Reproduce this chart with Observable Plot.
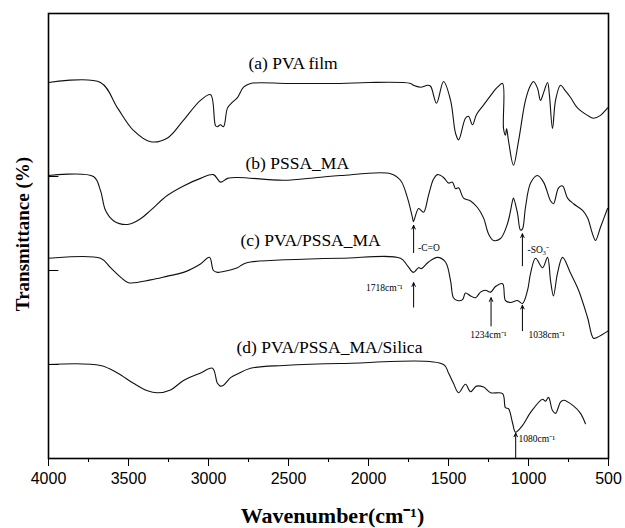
<!DOCTYPE html>
<html>
<head>
<meta charset="utf-8">
<script src="https://cdn.jsdelivr.net/npm/d3@7"></script>
<script src="https://cdn.jsdelivr.net/npm/@observablehq/plot@0.6"></script>
<style>
  html, body { margin: 0; padding: 0; background: #fff; }
  #chart { width: 625px; height: 528px; }
  svg { display: block; }
</style>
</head>
<body>
<div id="chart"></div>
<script>
// ---- Data: wavenumber (cm-1) and stacked transmittance (arbitrary units) ----
const wnA = [4000,3675,3569,3469,3362,3256,3156,3050,2987,2956,2944,2925,2906,2881,2850,2819,2781,2737,2500,2175,2000,1737,1719,1675,1631,1612,1575,1531,1487,1456,1437,1394,1375,1350,1325,1281,1237,1194,1162,1156,1144,1137,1125,1094,1062,1019,987,969,944,925,906,881,869,850,831,800,769,737,694,631,594,550,506];
const tA  = [4.00,4.00,3.73,3.49,3.37,3.41,3.60,3.81,3.87,3.54,3.53,3.55,3.53,3.73,3.79,3.84,3.95,3.99,3.99,3.99,4.00,3.99,3.97,3.95,3.97,3.96,3.78,4.01,3.81,3.46,3.39,3.62,3.64,3.55,3.66,3.76,3.86,3.95,3.99,3.51,3.44,3.51,3.38,3.12,3.38,3.81,3.97,4.01,3.94,3.81,3.89,4.00,3.86,3.51,3.81,3.97,3.91,3.84,3.73,3.65,3.62,3.65,3.73];

const wnB = [4000,3719,3675,3644,3594,3506,3425,3362,3256,3156,3050,2969,2925,2881,2819,2531,2319,2175,1862,1800,1756,1725,1719,1687,1656,1625,1594,1569,1531,1500,1475,1456,1437,1406,1362,1319,1281,1250,1219,1175,1131,1100,1094,1069,1050,1038,1019,987,944,906,862,844,812,787,756,719,662,631,600,581,550,506];
const tB  = [3.01,3.00,2.85,2.64,2.53,2.49,2.55,2.64,2.80,2.90,2.98,3.02,2.94,2.98,2.99,2.96,2.99,3.01,3.03,2.96,2.77,2.56,2.52,2.66,2.62,2.80,2.97,3.02,2.99,2.93,2.94,2.87,2.88,2.77,2.74,2.67,2.56,2.39,2.32,2.34,2.50,2.74,2.77,2.61,2.43,2.44,2.67,2.93,3.01,2.94,2.74,2.71,2.88,2.90,2.77,2.71,2.64,2.56,2.39,2.32,2.46,2.66];

const wnC = [4000,3675,3612,3550,3500,3362,3256,3156,3050,2994,2969,2944,2906,2819,2781,2737,2175,1800,1756,1719,1687,1669,1625,1569,1519,1487,1469,1444,1412,1394,1362,1331,1300,1269,1237,1206,1162,1144,1112,1069,1038,1006,987,956,912,881,862,844,819,787,737,687,631,594,569,500];
const tC  = [2.13,2.13,2.03,1.93,1.87,1.90,1.94,1.98,2.07,2.14,2.00,1.98,1.99,2.03,2.07,2.09,2.13,2.13,2.05,1.98,2.03,2.02,2.09,2.14,2.09,1.89,1.71,1.68,1.69,1.76,1.73,1.71,1.77,1.79,1.77,1.83,1.86,1.68,1.66,1.68,1.65,1.79,1.97,2.13,2.03,2.14,1.89,1.73,1.97,2.14,1.97,1.79,1.50,1.28,1.29,1.36];

const wnD = [4000,3675,3569,3469,3381,3319,3237,3156,3050,2975,2944,2925,2906,2862,2819,2737,2531,2175,1531,1500,1469,1437,1394,1362,1325,1281,1237,1162,1144,1125,1100,1081,1038,987,912,894,875,850,831,800,781,719,675,644];
const tD  = [1.00,0.99,0.91,0.80,0.72,0.70,0.73,0.83,0.91,0.96,0.80,0.77,0.78,0.86,0.90,0.96,0.99,1.01,1.00,0.91,0.80,0.70,0.79,0.71,0.77,0.76,0.70,0.69,0.54,0.53,0.38,0.28,0.35,0.49,0.63,0.61,0.65,0.51,0.48,0.60,0.62,0.56,0.48,0.37];

// Series labels
const seriesNames = ["(a) PVA film", "(b) PSSA_MA", "(c) PVA/PSSA_MA", "(d) PVA/PSSA_MA/Silica"];
const labelWn = [2750, 2769, 2800, 2825];
const labelT  = [4.20, 3.14, 2.32, 1.18];

// Peak annotations (arrows pointing up to bands)
const arrowWn  = [1718, 1038, 1718, 1234, 1038, 1080];
const arrowLo  = [2.19, 2.05, 1.61, 1.41, 1.36, 0.00];
const arrowHi  = [2.48, 2.39, 1.87, 1.71, 1.63, 0.27];

const noteText = ["-C=O", "-SO\u2083\u207B", "1718cm\u207B\u00B9", "1234cm\u207B\u00B9", "1038cm\u207B\u00B9", "1080cm\u207B\u00B9"];
const noteWn   = [1690, 1006, 1787, 1250, 1000, 1062];
const noteT    = [2.24, 2.22, 1.81, 1.31, 1.31, 0.21];
const noteAnchor = ["start", "start", "end", "middle", "start", "start"];

// Axis ticks
const majorTicks = [4000, 3500, 3000, 2500, 2000, 1500, 1000, 500];
const minorTicks = [3750, 3250, 2750, 2250, 1750, 1250, 750];
const yTicks = [1, 2, 3];

// ---- Build rows ----
const rows = [];
[[wnA, tA, "a"], [wnB, tB, "b"], [wnC, tC, "c"], [wnD, tD, "d"]].forEach(([w, t, s]) => {
  w.forEach((v, i) => rows.push({wn: v, T: t[i], s}));
});
const labels = seriesNames.map((n, i) => ({n, wn: labelWn[i], T: labelT[i]}));
const arrows = arrowWn.map((w, i) => ({wn: w, lo: arrowLo[i], hi: arrowHi[i]}));
const notes = noteText.map((t, i) => ({t, wn: noteWn[i], T: noteT[i], a: noteAnchor[i]}));

const serif = "'Liberation Serif', 'Times New Roman', serif";
const sans = "'Liberation Sans', Arial, sans-serif";

const noteMark = (anchor) => Plot.text(notes.filter(d => d.a === anchor), {
  x: "wn", y: "T", text: "t", textAnchor: anchor, fontSize: 9.5, fontFamily: serif, fill: "#000"
});

const chart = Plot.plot({
  width: 625,
  height: 528,
  marginLeft: 48,
  marginRight: 17,
  marginTop: 13,
  marginBottom: 70,
  style: {background: "#fff", color: "#000", fontFamily: sans},
  x: {domain: [4000, 500]},
  y: {domain: [0, 4.734]},
  marks: [
    Plot.line(rows, {x: "wn", y: "T", z: "s", stroke: "#111", strokeWidth: 1.1, curve: "catmull-rom"}),
    Plot.frame({stroke: "#000", strokeWidth: 1.6}),
    Plot.axisX({ticks: majorTicks, tickSize: 8, tickPadding: 6, tickFormat: d => String(d), fontSize: 16, fontFamily: sans, label: null, tickStrokeWidth: 1.5}),
    Plot.axisX({ticks: minorTicks, tickSize: 4, tickFormat: () => "", label: null}),
    Plot.axisY({ticks: [], label: null, tickSize: 0}),
    Plot.ruleY(yTicks, {x1: 4000, x2: 3935, stroke: "#000", strokeWidth: 1}),
    Plot.arrow(arrows, {x1: "wn", x2: "wn", y1: "lo", y2: "hi", stroke: "#000", strokeWidth: 1, headLength: 6, headAngle: 50}),
    Plot.text(labels, {x: "wn", y: "T", text: "n", textAnchor: "start", fontSize: 17.5, fontFamily: serif, fill: "#000"}),
    noteMark("start"),
    noteMark("middle"),
    noteMark("end"),
    Plot.text(["Wavenumber(cm\u207B\u00B9)"], {frameAnchor: "bottom", textAnchor: "middle", lineAnchor: "middle", dy: 57, dx: 4, fontSize: 22, fontWeight: "bold", fontFamily: serif, fill: "#000"}),
    Plot.text(["Transmittance (%)"], {frameAnchor: "left", textAnchor: "middle", lineAnchor: "middle", dx: -26, dy: -2, rotate: -90, fontSize: 19, fontWeight: "bold", fontFamily: serif, fill: "#000"})
  ]
});
document.getElementById("chart").appendChild(chart);
</script>
</body>
</html>
